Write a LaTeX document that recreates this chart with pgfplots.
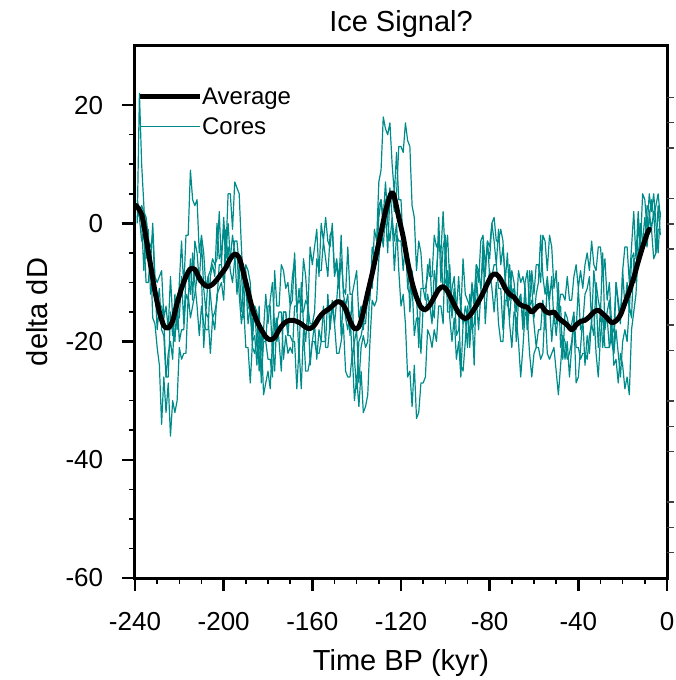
\documentclass[border=0pt]{standalone}
\usepackage{fontspec}
\setmainfont{Liberation Sans}
\usepackage{pgfplots}
\usepackage{pgfplotstable}
\pgfplotsset{compat=1.18}
\definecolor{core}{RGB}{0,139,139}

\pgfplotstableread{
x a b c d
-239 0 2 1 4
-238 22 1 2 2
-237 10 -3 0 3
-236 3 -2 -8 2
-235 -6 -10 1 1
-234 -1 -10 -3 -3
-233 -12 -5 -7 -4
-232 -10 -16 0 -2
-231 -10 -17 -9 -10
-230 -18 -21 -10 -14
-229 -14 -24 -9 -11
-228 -14 -34 -8 -18
-227 -16 -26 -16 -19
-226 -26 -32 -14 -26
-225 -26 -27 -18 -22
-224 -15 -36 -9 -20
-223 -19 -30 -16 -23
-222 -12 -32 -20 -13
-221 -18 -30 -13 -16
-220 -10 -21 -20 -16
-219 -3 -23 -18 -9
-218 -11 -22 -18 -17
-217 -2 -22 -12 -9
-216 -2 -12 -13 -9
-215 9 -16 -6 -12
-214 4 -14 -13 -5
-213 3 -12 -3 -10
-212 4 -9 -5 -14
-211 -5 -10 -10 -19
-210 -2 -9 -3 -14
-209 -5 -21 -11 -17
-208 -11 -15 -15 -18
-207 -9 -16 -9 -18
-206 -8 -22 -12 -9
-205 -6 -16 -16 -7
-204 -7 -18 -15 -9
-203 -6 -12 -13 0
-202 2 -11 -7 -6
-201 -7 -10 -7 -5
-200 1 -13 -10 -1
-199 -5 -5 -1 -6
-198 5 0 -7 -4
-197 5 -6 -6 -8
-196 -1 -6 -2 -10
-195 7 -3 -5 -6
-194 6 -3 -12 -5
-193 5 -7 -7 -12
-192 -4 -8 -15 -17
-191 -11 -16 -11 -14
-190 -7 -8 -10 -21
-189 -8 -14 -17 -21
-188 -10 -15 -14 -27
-187 -18 -20 -21 -20
-186 -14 -14 -22 -19
-185 -15 -21 -19 -24
-184 -25 -19 -18 -14
-183 -19 -26 -21 -27
-182 -29 -20 -18 -18
-181 -27 -20 -20 -12
-180 -25 -23 -14 -17
-179 -28 -23 -14 -13
-178 -20 -26 -22 -10
-177 -25 -16 -8 -18
-176 -16 -20 -14 -17
-175 -20 -18 -14 -15
-174 -25 -18 -7 -15
-173 -15 -15 -8 -23
-172 -15 -15 -11 -19
-171 -19 -19 -10 -22
-170 -14 -19 -14 -21
-169 -13 -20 -9 -22
-168 -5 -20 -6 -14
-167 -14 -28 -15 -14
-166 -13 -21 -11 -23
-165 -14 -28 -15 -10
-164 -6 -18 -15 -17
-163 -9 -25 -13 -20
-162 -15 -25 -14 -14
-161 -4 -23 -17 -24
-160 -7 -20 -17 -20
-159 -4 -20 -15 -17
-158 -1 -22 -6 -23
-157 -9 -22 -8 -18
-156 0 -20 -8 -20
-155 -3 -14 -3 -20
-154 1 -21 -6 -20
-153 -3 -21 -9 -12
-152 -4 -17 -2 -18
-151 0 -13 -1 -14
-150 -8 -17 -9 -17
-149 -6 -22 -7 -13
-148 -10 -22 -11 -8
-147 -2 -20 -6 -19
-146 -12 -17 -11 -13
-145 -14 -25 -12 -16
-144 -12 -26 -4 -18
-143 -19 -26 -12 -15
-142 -12 -22 -12 -23
-141 -23 -30 -10 -20
-140 -28 -26 -8 -18
-139 -20 -31 -16 -27
-138 -19 -25 -14 -21
-137 -17 -32 -18 -19
-136 -17 -31 -13 -21
-135 -12 -29 -13 -20
-134 -9 -20 -13 -10
-133 -10 -13 -4 -11
-132 -1 -14 -6 -5
-131 -3 -13 -6 -6
-130 7 -6 1 3
-129 9 -1 4 4
-128 18 -4 1 -1
-127 16 2 7 4
-126 15 -5 1 0
-125 17 5 6 -3
-124 10 5 1 1
-123 5 2 -3 -8
-122 12 5 0 -2
-121 4 13 -8 -3
-120 4 13 -14 -3
-119 -4 12 -12 -8
-118 -6 17 -17 -3
-117 -5 14 -26 -11
-116 -15 13 -25 -12
-115 -10 3 -31 -8
-114 -19 1 -24 -12
-113 -16 -8 -33 -12
-112 -16 -3 -32 -21
-111 -22 -5 -27 -11
-110 -14 -11 -27 -11
-109 -15 -11 -26 -13
-108 -12 -9 -18 -7
-107 -14 -6 -19 -9
-106 -17 -14 -21 -9
-105 -8 -16 -18 -2
-104 -11 -8 -20 -4
-103 1 -3 -14 -3
-102 -10 -5 -14 -5
-101 -4 2 -17 -11
-100 -2 -6 -3 -10
-99 -12 -2 -15 -8
-98 -7 -10 -15 -16
-97 -15 -16 -11 -20
-96 -11 -12 -9 -16
-95 -19 -15 -15 -23
-94 -18 -15 -9 -20
-93 -14 -24 -15 -26
-92 -17 -25 -6 -17
-91 -14 -20 -12 -16
-90 -16 -14 -13 -21
-89 -19 -21 -14 -12
-88 -10 -15 -11 -18
-87 -13 -24 -14 -17
-86 -7 -9 -7 -13
-85 -10 -14 -8 -18
-84 -3 -13 -11 -12
-83 -2 -12 -6 -3
-82 -7 -8 -9 -17
-81 -4 -3 -3 -11
-80 -6 -9 -4 -8
-79 0 -9 0 -11
-78 -3 -7 1 -15
-77 -7 -7 -3 -10
-76 -1 -11 -3 -17
-75 -7 -11 -1 -20
-74 -4 -18 -3 -20
-73 -9 -10 -10 -13
-72 -14 -11 -5 -13
-71 -7 -17 -13 -16
-70 -12 -21 -8 -11
-69 -11 -15 -10 -13
-68 -20 -16 -14 -15
-67 -13 -20 -14 -8
-66 -12 -26 -12 -10
-65 -18 -21 -17 -9
-64 -11 -15 -10 -11
-63 -18 -16 -8 -18
-62 -8 -22 -14 -14
-61 -11 -26 -8 -13
-60 -16 -22 -12 -17
-59 -12 -21 -7 -21
-58 -10 -21 -7 -18
-57 -2 -23 -10 -18
-56 -9 -22 -2 -13
-55 -12 -14 -3 -18
-54 -9 -22 -8 -10
-53 -13 -23 -2 -14
-52 -9 -22 -4 -20
-51 -17 -21 -11 -15
-50 -17 -25 -8 -19
-49 -10 -29 -15 -15
-48 -21 -24 -12 -14
-47 -19 -19 -12 -23
-46 -23 -20 -13 -15
-45 -20 -23 -9 -16
-44 -26 -22 -13 -18
-43 -21 -20 -13 -17
-42 -17 -16 -9 -15
-41 -18 -27 -7 -21
-40 -11 -26 -11 -21
-39 -18 -21 -8 -23
-38 -17 -16 -11 -22
-37 -12 -24 -7 -22
-36 -11 -19 -5 -23
-35 -9 -22 -8 -19
-34 -17 -16 -3 -17
-33 -8 -15 -7 -19
-32 -12 -22 -8 -10
-31 -21 -26 -4 -13
-30 -14 -19 -4 -15
-29 -21 -15 -9 -5
-28 -17 -21 -6 -18
-27 -16 -21 -13 -15
-26 -21 -21 -10 -13
-25 -19 -16 -17 -20
-24 -18 -24 -22 -22
-23 -10 -23 -18 -10
-22 -14 -27 -22 -13
-21 -17 -22 -26 -16
-20 -8 -24 -20 -8
-19 -4 -28 -18 -14
-18 -4 -26 -20 -10
-17 -10 -29 -14 -15
-16 -4 -18 -16 -6
-15 2 -15 -6 -5
-14 -6 -12 -8 -10
-13 2 -5 -7 0
-12 -4 -3 0 -4
-11 5 -4 -3 -3
-10 4 -2 -3 1
-9 -1 -4 3 -3
-8 5 1 2 1
-7 2 -1 -1 4
-6 5 -6 2 1
-5 0 -5 -5 3
-4 -5 -1 3 5
-3 2 -1 -2 1
}\cores

\pgfplotstableread{
x y
-239.5 3.0
-237 1.5
-235 -2.5
-233 -7
-231 -11.5
-229 -15
-227 -17.3
-225 -17.7
-223 -16.5
-221 -13.5
-219 -11
-217 -9
-215 -7.7
-213 -7.8
-211 -9.3
-209 -10.3
-207 -10.7
-205 -10.3
-203 -9.5
-201 -8.5
-199 -7.5
-197 -6
-195 -5.2
-193 -5.8
-191 -8.5
-189 -11.5
-187 -14.5
-185 -16.5
-183 -18
-181 -19.2
-179 -19.7
-177 -19.3
-175 -18
-173 -17
-171 -16.5
-169 -16.4
-167 -16.6
-165 -17
-163 -17.6
-161 -17.8
-159 -17.2
-157 -16
-155 -15.1
-153 -14.6
-151 -14
-149 -13.3
-147 -13.4
-145 -14.5
-143 -16.5
-141 -17.8
-139 -17.5
-137 -15
-135 -11.7
-133 -8.5
-131 -5
-129 -1.5
-127 2
-125 4.6
-124 5.2
-123 4.5
-121 1
-119 -2.3
-117 -6.5
-115 -10
-113 -12.5
-111 -14.2
-109 -14.6
-107 -13.8
-105 -12.5
-103 -11.2
-101 -10.7
-99 -11.5
-97 -13
-95 -14.5
-93 -15.6
-91 -16.1
-89 -15.6
-87 -14.5
-85 -13.2
-83 -11.8
-81 -10.2
-79 -8.8
-77 -8.6
-75 -9.5
-73 -11
-71 -12
-69 -12.5
-67 -13.5
-65 -14
-63 -14.2
-61 -15
-59 -14.3
-57 -13.8
-55 -14.8
-53 -15.2
-51 -15
-49 -16
-47 -16.6
-45 -17.2
-43 -18
-41 -17.2
-39 -16.6
-37 -16.4
-35 -15.8
-33 -15
-31 -14.7
-29 -15.3
-27 -16
-25 -16.8
-23 -16.5
-21 -15.5
-19 -13.5
-17 -11.5
-15 -9.2
-13 -6.5
-11 -4
-9 -1.8
-8 -1
}\avg

\begin{document}
\begin{tikzpicture}
\useasboundingbox (-135pt,-102pt) rectangle (541pt,578pt);
\begin{axis}[
  at={(0pt,0pt)}, anchor=south west,
  width=532pt, height=532pt, scale only axis,
  xmin=-240, xmax=0, ymin=-60, ymax=30,
  line width=3pt,
  xtick={-240,-200,-160,-120,-80,-40,0},
  xticklabels={-240,-200,-160,-120,-80,-40,0},
  ytick={-60,-40,-20,0,20},
  yticklabels={-60,-40,-20,0,20},
  minor x tick num=3, minor y tick num=3,
  xtick pos=bottom, ytick pos=left,
  tick align=outside,
  major tick length=13pt, minor tick length=6pt,
  major tick style={line width=2.4pt, black},
  minor tick style={line width=1.6pt, black},
  tick label style={font=\fontsize{26}{30}\selectfont},
  xticklabel style={yshift=-17pt},
  yticklabel style={xshift=-14pt},
  title={Ice Signal?},
  title style={font=\fontsize{29}{34}\selectfont, at={(axis description cs:0.5,1.030)}, anchor=center},
  xlabel={Time BP (kyr)},
  ylabel={delta dD},
  xlabel style={font=\fontsize{29}{34}\selectfont, at={(axis description cs:0.5,-0.16)}, anchor=center},
  ylabel style={font=\fontsize{29}{34}\selectfont, at={(axis description cs:-0.184,0.5)}, anchor=center},
  legend cell align=left,
  legend image code/.code={\draw[#1, line cap=butt] (0pt,2pt) -- (60pt,2pt);},
  legend style={at={(axis description cs:0.004,0.922)}, anchor=north west,
    draw=none, fill=none, inner sep=0pt, outer sep=0pt, row sep=8pt,
    font=\fontsize{24}{28}\selectfont,
    nodes={inner sep=0pt, outer sep=0pt, text height=17pt, text depth=5pt}},
]
\addplot[core, line width=1.2pt, line join=round, forget plot] table[x=x,y=a]{\cores};
\addplot[core, line width=1.2pt, line join=round, forget plot] table[x=x,y=b]{\cores};
\addplot[core, line width=1.2pt, line join=round, forget plot] table[x=x,y=c]{\cores};
\addplot[core, line width=1.2pt, line join=round, forget plot] table[x=x,y=d]{\cores};
\addplot[black, line width=5pt, smooth, line join=round, line cap=round] table[x=x,y=y]{\avg};
\addlegendentry{Average}
\addlegendimage{core, line width=1.2pt}
\addlegendentry{Cores}
\end{axis}
\begin{axis}[
  at={(0pt,0pt)}, anchor=south west,
  width=532pt, height=532pt, scale only axis,
  xmin=-240, xmax=0, ymin=-60, ymax=30,
  axis x line=none, axis y line*=right,
  y axis line style={draw=none},
  ytick={-55.72,-51.44,-47.16,-38.6,-34.32,-30.04,-21.48,-17.2,-12.92,-4.36,-0.08,4.2,12.76,17.04,21.32},
  yticklabels={},
  minor y tick num=0,
  tick align=outside,
  major tick length=7pt,
  major tick style={line width=1.4pt, black!75},
]
\addplot[draw=none] coordinates {(-100,0)};
\end{axis}
\end{tikzpicture}
\end{document}
